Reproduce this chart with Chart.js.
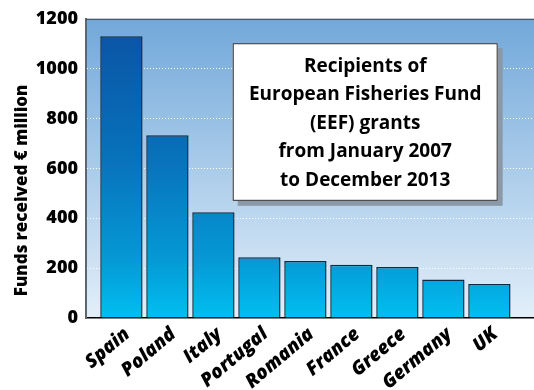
<!DOCTYPE html>
<html>
<head>
<meta charset="utf-8">
<script src="https://cdn.jsdelivr.net/npm/chart.js@4.4.1/dist/chart.umd.min.js"></script>
<style>
  html, body { margin: 0; padding: 0; background: #fff; }
  #wrap { width: 534px; height: 390px; }
</style>
</head>
<body>
<div id="wrap"><canvas id="myChart" width="534" height="390"></canvas></div>
<script>
const countries = ['Spain', 'Poland', 'Italy', 'Portugal', 'Romania', 'France', 'Greece', 'Germany', 'UK'];
const funds = [1130, 733, 424, 244, 229, 214, 205, 154, 136];
const yTicks = [0, 200, 400, 600, 800, 1000, 1200];
const yTitle = 'Funds received € million';
const boxLines = ['Recipients of', 'European Fisheries Fund', '(EEF) grants', 'from January 2007', 'to December 2013'];

const FONT = '"Open Sans", sans-serif';

// background of the plot + title box + axis title
const decor = {
    id: 'decor',
    beforeDraw(chart) {
        const {ctx, chartArea: ca} = chart;
        const g = ctx.createLinearGradient(0, ca.top, 0, ca.bottom);
        g.addColorStop(0, '#72a8da');
        g.addColorStop(1, '#e2eff9');
        ctx.save();
        ctx.fillStyle = g;
        ctx.fillRect(ca.left, ca.top, ca.right - ca.left, ca.bottom - ca.top);
        ctx.restore();
    },
    afterDatasetsDraw(chart) {
        const {ctx, chartArea: ca, scales} = chart;
        ctx.save();
        // top border
        ctx.strokeStyle = '#3d4650';
        ctx.lineWidth = 1;
        ctx.beginPath();
        ctx.moveTo(ca.left, ca.top + 0.5);
        ctx.lineTo(ca.right, ca.top + 0.5);
        ctx.stroke();

        // title box, placed in value space
        const x1 = scales.x.getPixelForValue(2.42), x2 = scales.x.getPixelForValue(8.18);
        const y1 = scales.y.getPixelForValue(1102), y2 = scales.y.getPixelForValue(470);
        ctx.fillStyle = '#8a98a8';
        ctx.fillRect(x1 + 5, y1 + 5, x2 - x1, y2 - y1);
        ctx.fillStyle = '#ffffff';
        ctx.fillRect(x1, y1, x2 - x1, y2 - y1);
        ctx.strokeStyle = '#2a2a2a';
        ctx.strokeRect(x1 + 0.5, y1 + 0.5, x2 - x1 - 1, y2 - y1 - 1);
        ctx.fillStyle = '#000';
        ctx.font = 'bold 19px ' + FONT;
        ctx.textAlign = 'center';
        ctx.textBaseline = 'middle';
        const cx = (x1 + x2) / 2;
        boxLines.forEach((t, i) => {
            ctx.fillText(t, cx, y1 + 23 + i * 28.5);
        });

        // y axis title
        ctx.translate(22, (ca.top + ca.bottom) / 2 + 22);
        ctx.rotate(-Math.PI / 2);
        ctx.font = '800 17px ' + FONT;
        ctx.fillText(yTitle, 0, 0);
        ctx.restore();
    }
};

const table = document.getElementById('myChart').getContext('2d');
const myChart = new Chart(table, {
    type: 'bar',
    data: {
        datasets: [{
            data: countries.map((c, i) => ({x: i, y: funds[i]})),
            backgroundColor(ctx) {
                const ca = ctx.chart.chartArea;
                if (!ca) return '#0a7cc2';
                const g = ctx.chart.ctx.createLinearGradient(0, ca.top, 0, ca.bottom);
                g.addColorStop(0, '#0a52a3');
                g.addColorStop(0.45, '#0870ba');
                g.addColorStop(0.8, '#0598d5');
                g.addColorStop(1, '#00bff0');
                return g;
            },
            borderColor: '#0c2b44',
            borderWidth: 1.5,
            categoryPercentage: 1,
            barPercentage: 0.92
        }]
    },
    options: {
        responsive: false,
        animation: false,
        layout: { padding: { top: 12, right: 0, left: 0, bottom: 0 } },
        plugins: {
            legend: { display: false },
            tooltip: { enabled: false }
        },
        scales: {
            x: {
                type: 'linear',
                offset: false,
                min: -0.77,
                max: 8.97,
                afterBuildTicks(scale) {
                    scale.ticks = countries.map((c, i) => ({value: i}));
                },
                afterFit(scale) { scale.height = 72; },
                grid: { display: false, drawTicks: false },
                border: { color: '#000', width: 1.5 },
                ticks: {
                    autoSkip: false,
                    maxRotation: 40,
                    minRotation: 40,
                    padding: 5,
                    labelOffset: 6,
                    color: '#000',
                    font: { family: FONT, size: 19, weight: '800', style: 'italic' },
                    callback: (v) => countries[v]
                }
            },
            y: {
                min: 0,
                max: 1200,
                afterBuildTicks(scale) {
                    scale.ticks = yTicks.map(v => ({value: v}));
                },
                afterFit(scale) { scale.width = 86; },
                grid: {
                    drawTicks: false,
                    lineWidth: 1,
                    color: (c) => (c.tick && (c.tick.value === 0 || c.tick.value === 1200)) ? 'rgba(0,0,0,0)' : 'rgba(255,255,255,0.95)'
                },
                border: { color: '#5e6670', width: 2, dash: [1, 2] },
                ticks: {
                    padding: 8,
                    color: '#000',
                    font: { family: FONT, size: 18, weight: '800' },
                    callback: (v) => String(v)
                }
            }
        }
    },
    plugins: [decor]
});
</script>
</body>
</html>
